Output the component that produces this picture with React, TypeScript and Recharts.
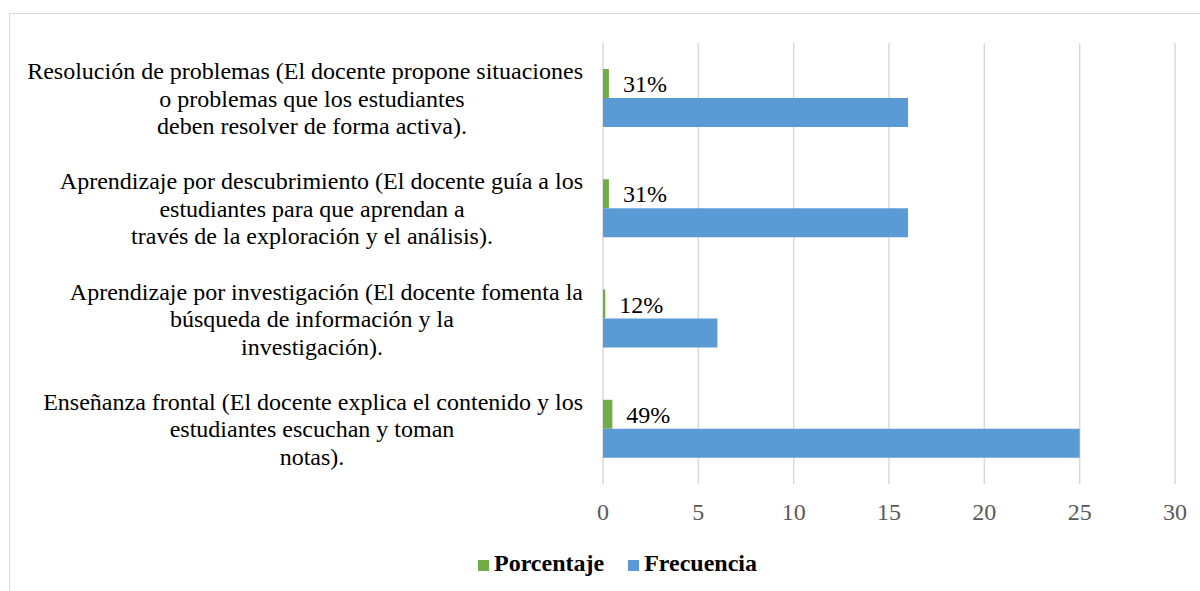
import {
  BarChart, Bar, XAxis, YAxis, CartesianGrid, Legend, LabelList
} from 'recharts'

const categories = [
  'Resolución de problemas (El docente propone situaciones\no problemas que los estudiantes\ndeben resolver de forma activa).',
  'Aprendizaje por descubrimiento (El docente guía a los\nestudiantes para que aprendan a\ntravés de la exploración y el análisis).',
  'Aprendizaje por investigación (El docente fomenta la\nbúsqueda de información y la\ninvestigación).',
  'Enseñanza frontal (El docente explica el contenido y los\nestudiantes escuchan y toman\nnotas).',
]
const porcentaje = [0.31, 0.31, 0.12, 0.49]
const frecuencia = [16, 16, 6, 25]
const xTicks = [0, 5, 10, 15, 20, 25, 30]

const SERIES = [
  { key: 'porcentaje', label: 'Porcentaje', color: '#70AD47' },
  { key: 'frecuencia', label: 'Frecuencia', color: '#5B9BD5' },
]

const FONT = '"Liberation Serif", "Times New Roman", serif'

const data = categories.map((name, i) => ({
  name,
  porcentaje: porcentaje[i],
  frecuencia: frecuencia[i],
}))

function CategoryTick({ x, y, payload }: any) {
  const lines = String(payload.value).split('\n')
  const lh = 27.5
  const start = -((lines.length - 1) * lh) / 2
  return (
    <g>
      {lines.map((line, i) => (
        <text
          key={i}
          x={i === 0 ? x - 12 : x - 283}
          y={y + start + i * lh}
          dy="0.35em"
          textAnchor={i === 0 ? 'end' : 'middle'}
          fontSize={24}
          fontFamily={FONT}
          fill="#000"
        >
          {line}
        </text>
      ))}
    </g>
  )
}

function LegendContent() {
  return (
    <div
      style={{
        display: 'flex', justifyContent: 'center', alignItems: 'center',
        height: 28, paddingLeft: 60, fontFamily: FONT, fontSize: 24,
        fontWeight: 'bold', color: '#000',
      }}
    >
      {SERIES.map((s, i) => (
        <div key={s.key} style={{ display: 'flex', alignItems: 'center', marginLeft: i ? 24 : 0 }}>
          <span style={{ width: 11, height: 11, background: s.color, marginRight: 5, marginTop: 4 }} />
          <span>{s.label}</span>
        </div>
      ))}
    </div>
  )
}

export default function App() {
  return (
    <div style={{ position: 'absolute', left: 0, top: 0, width: 1200, height: 591, background: '#fff', overflow: 'hidden' }}>
      <div
        style={{
          position: 'absolute', left: 9, top: 13, width: 1300, height: 700,
          border: '1.5px solid #d9d9d9',
        }}
      />
      <BarChart
        width={1200}
        height={591}
        data={data}
        layout="vertical"
        barSize={29}
        barGap={0}
        margin={{ top: 43, right: 25, left: 0, bottom: 14 }}
      >
        <CartesianGrid horizontal={false} stroke="#d9d9d9" strokeWidth={1.5} />
        <XAxis
          type="number"
          domain={[0, 30]}
          ticks={xTicks}
          axisLine={false}
          tickLine={false}
          tickMargin={13}
          height={65}
          tick={{ fontSize: 24, fill: '#595959', fontFamily: FONT }}
        />
        <YAxis
          type="category"
          dataKey="name"
          width={603}
          axisLine={false}
          tickLine={false}
          interval={0}
          tick={<CategoryTick />}
        />
        <Legend verticalAlign="bottom" content={<LegendContent />} />
        {SERIES.map((s) => (
          <Bar key={s.key} dataKey={s.key} name={s.label} fill={s.color} isAnimationActive={false}>
            {s.key === 'porcentaje' && (
              <LabelList
                dataKey="porcentaje"
                position="right"
                offset={14}
                formatter={(v: any) => `${Math.round(Number(v) * 100)}%`}
                style={{ fontSize: 24, fontFamily: FONT, fill: '#000' }}
              />
            )}
          </Bar>
        ))}
      </BarChart>
    </div>
  )
}
